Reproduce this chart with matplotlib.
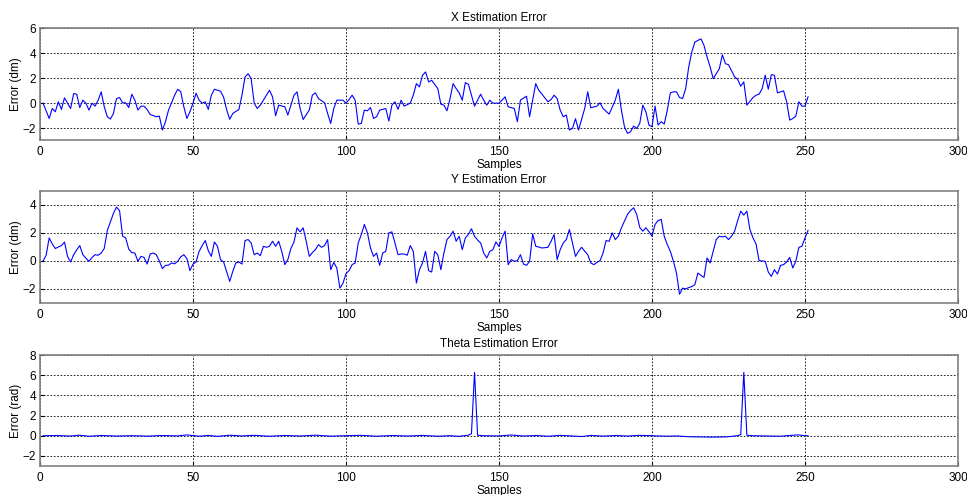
import matplotlib
matplotlib.use("Agg")
import matplotlib.pyplot as plt

plt.rcParams['font.family'] = ['Liberation Sans', 'DejaVu Sans']

# ---------------- data ----------------
x_samples = [1,3,4,5,6,7,8,9,10,11,12,13,14,15,16,17,18,19,20,21,22,23,24,25,26,27,28,29,30,31,32,33,34,35,36,38,39,40,41,42,44,45,46,47,48,49,50,51,52,53,54,55,56,57,59,60,61,62,63,65,66,67,68,69,70,71,72,73,74,75,76,77,78,80,81,82,83,84,85,86,88,89,90,91,93,94,95,96,97,99,100,101,102,103,104,105,106,107,108,109,110,111,113,114,115,116,117,118,119,121,122,123,124,125,126,127,128,130,131,132,133,134,135,136,137,138,139,140,141,142,144,145,146,147,148,150,151,152,153,155,156,157,159,160,162,163,166,167,168,169,170,171,172,173,174,175,176,178,179,180,182,183,184,186,188,189,190,191,192,193,194,195,196,197,198,199,200,201,202,203,204,205,206,207,208,209,210,211,212,213,214,216,217,218,219,220,222,223,224,225,227,228,229,230,231,233,234,235,236,237,238,239,240,241,242,243,244,245,246,247,248,249,250,251]
x_error = [0,-1.23,-0.43,-0.69,0.11,-0.5,0.43,0,-0.43,0.77,0.72,-0.35,0.24,0,-0.56,0,-0.24,0.24,0.91,-0.29,-1.09,-1.28,-0.83,0.37,0.45,0.03,0.03,-0.35,0.72,0.24,-0.56,-0.24,-0.24,-0.51,-0.91,-1.09,-1.04,-2.16,-1.49,-0.56,0.64,1.12,0.91,-0.29,-1.23,-0.69,0.0,0.8,0.24,0,0.11,-0.5,0.64,1.12,0.96,0.48,-0.53,-1.3,-0.83,-0.5,0.64,2.1,2.37,1.97,0,-0.43,-0.16,0.24,0.64,1.04,0.5,-1.01,-0.16,-0.29,-0.96,-0.16,0.64,0.91,-0.43,-1.31,-0.56,0.64,0.83,0.37,0.03,-0.83,-1.63,-0.43,0.24,0.24,0,0.29,0.64,0.24,-1.68,-1.63,-0.56,-0.61,-0.35,-1.23,-1.09,-0.56,-0.43,-1.44,-0.16,0.11,-0.5,0.24,-0.24,0,0.64,1.57,1.31,2.24,2.51,1.71,1.84,1.17,-0.08,-0.16,-0.61,0.37,1.57,1.17,0.83,0.24,1.65,1.52,0.64,-0.24,0.72,0.24,-0.16,0.24,0,0,0.24,0.51,-0.29,-0.43,-1.49,0.24,0.56,-1.09,1.57,1.04,0.11,0.29,0.64,0.37,-0.56,-1.09,-0.96,-2.16,-2.03,-1.25,-2.16,-0.43,0.91,-0.37,-0.24,0.03,-0.43,-0.88,0.24,1.12,-0.56,-1.89,-2.43,-2.29,-1.84,-2.03,-1.63,-0.16,-0.69,-1.76,-1.89,-0.24,-1.76,-1.49,-1.68,-0.56,0.83,0.91,0.91,0.45,0.37,1.17,2.91,4.11,4.91,5.17,4.64,3.71,2.91,1.97,2.77,3.89,3.17,3.09,2.11,1.92,1.36,1.71,-0.16,0.45,0.64,0.72,1.17,2.24,1.12,2.29,2.24,0.83,0.91,0.99,0.11,-1.36,-1.23,-1.04,0.11,-0.24,-0.24,0.51]

y_samples = [1,2,3,4,5,6,7,8,9,10,11,12,13,14,15,16,17,18,19,20,21,22,23,24,25,26,27,28,29,30,31,32,33,34,35,36,37,38,39,40,41,42,43,44,45,46,47,48,49,50,51,52,53,54,55,56,57,58,59,60,62,63,64,65,66,67,68,69,70,71,72,73,74,75,76,77,78,79,80,81,82,83,84,85,86,87,88,89,90,91,92,93,94,95,96,97,98,99,100,101,102,103,104,105,106,107,108,109,110,111,112,113,114,115,116,117,118,119,120,121,122,123,124,125,126,127,128,129,130,131,132,133,134,135,136,137,138,139,140,141,142,143,144,145,146,147,148,149,150,151,152,153,154,155,156,157,158,159,160,161,162,163,164,165,166,167,168,169,170,171,172,173,174,175,176,177,178,179,180,181,182,183,184,185,186,187,188,189,190,191,192,193,194,195,196,197,198,199,200,201,202,203,204,205,206,207,208,209,210,211,212,213,214,215,216,217,218,219,220,221,222,223,224,225,226,227,228,229,230,231,232,233,234,235,236,237,238,239,240,241,242,243,244,245,246,247,248,249,250,251]
y_error = [0,0.41,1.65,1.22,0.89,1.0,1.1,1.35,0.33,-0.07,0.45,0.8,1.1,0.45,0.2,-0.02,0.25,0.45,0.41,0.57,0.9,2.18,2.8,3.4,3.85,3.6,1.77,1.65,0.85,0.6,0.57,-0.02,0.33,0.26,-0.22,0.5,0.57,0.45,0.0,-0.55,-0.31,-0.3,-0.14,-0.2,-0.02,0.3,0.45,0.17,-0.69,-0.22,-0.07,0.69,1.1,1.46,0.74,0.33,1.36,1.05,0.1,-0.07,-1.46,-0.74,-0.14,-0.07,-0.22,1.46,1.53,1.29,0.45,0.57,0.38,1.05,0.98,1.05,1.41,1.05,1.41,0.69,-0.26,0.1,0.9,1.36,2.37,2.08,2.37,1.41,0.33,0.6,0.81,1.17,0.98,1.1,1.53,-0.62,-0.1,-0.5,-1.94,-1.6,-0.9,-0.69,-0.26,-0.14,1.29,1.89,2.61,2.01,0.93,0.33,0.57,-0.31,0.57,0.69,2.01,2.08,1.29,0.45,0.5,0.5,0.41,1.1,0.69,-1.58,-0.62,-0.14,0.69,-0.69,-0.79,0.69,0.45,-0.62,0.57,1.53,1.77,2.13,1.41,1.77,0.81,1.65,1.9,2.3,1.77,1.5,1.29,0.57,0.22,0.69,0.81,1.36,1.05,1.65,2.13,-0.26,0.1,-0.02,0.02,0.45,-0.22,-0.31,-0.02,1.94,1.05,1.0,0.93,0.95,0.98,1.4,1.89,0.1,0.81,1.29,1.53,2.25,1.29,0.33,0.69,0.98,0.7,0.45,-0.14,-0.26,-0.1,0.02,0.57,1.46,1.41,2.01,1.53,1.77,2.37,2.85,3.33,3.61,3.8,3.33,2.4,2.13,2.37,2.1,1.77,2.61,2.89,2.97,1.77,1.17,0.69,-0.02,-0.86,-2.37,-1.94,-1.99,-1.9,-1.82,-1.7,-0.86,-1.03,-1.17,0.22,-0.14,0.69,1.53,1.77,1.72,1.77,1.53,1.77,2.13,2.89,3.56,3.28,3.56,2.25,1.65,1.22,0.02,0.0,-0.02,-0.79,-1.1,-0.62,-0.93,-0.31,-0.26,-0.07,0.26,-0.5,-0.02,0.98,1.05,1.65,2.18]

theta_samples = [1,5,10,13,16,20,25,30,35,40,45,48,52,55,58,62,66,70,75,80,85,90,95,100,105,110,115,120,125,130,134,137,139,140,141,142,143,145,150,154,158,162,166,170,174,177,180,184,188,192,196,200,205,208,212,216,220,224,227,228,229,230,231,233,238,242,246,248,250,251]
theta_error = [0,0.02,-0.03,0.05,-0.05,0.02,-0.03,0.0,-0.04,0.02,-0.02,0.08,-0.05,0.03,-0.06,0.05,-0.02,0.04,-0.05,0.02,-0.03,0.05,-0.04,0.0,0.04,-0.05,0.02,-0.03,0.03,-0.05,0.0,-0.06,0.02,0.05,0.2,6.28,0.05,0.0,-0.02,0.07,-0.03,0.02,-0.05,0.04,-0.03,-0.08,0.03,-0.04,0.02,-0.03,0.04,0.0,-0.05,-0.02,-0.1,-0.12,-0.14,-0.12,-0.03,0.02,0.1,6.28,0.05,0.0,-0.03,-0.05,0.05,0.08,0.0,0.0]

titles = ["X Estimation Error", "Y Estimation Error", "Theta Estimation Error"]
ylabels = ["Error (dm)", "Error (dm)", "Error (rad)"]
ylims = [(-3, 6), (-3, 5), (-3, 8)]
yticks = [[-2, 0, 2, 4, 6], [-2, 0, 2, 4], [-2, 0, 2, 4, 6, 8]]
xticks = [0, 50, 100, 150, 200, 250, 300]
xlabel = "Samples"

series = [(x_samples, x_error), (y_samples, y_error), (theta_samples, theta_error)]

# ---------------- figure ----------------
W, H = 967, 495
fig = plt.figure(figsize=(W / 100, H / 100), dpi=100)
boxes = [(40, 28.5, 958, 140.5), (40, 191, 958, 303), (40, 355, 958, 466)]
FS = 8.5

for i, (l, t, r, b) in enumerate(boxes):
    ax = fig.add_axes([l / W, 1 - b / H, (r - l) / W, (b - t) / H])
    xs, ys = series[i]
    ax.plot(xs, ys, color='#0000ff', lw=0.8)
    ax.set_xlim(0, 300)
    ax.set_ylim(*ylims[i])
    ax.set_xticks(xticks)
    ax.set_yticks(yticks[i])
    ax.grid(True, color='black', linestyle=(0, (2, 2)), linewidth=0.6)
    ax.tick_params(axis='x', direction='in', length=3, labelsize=FS, pad=4, colors='black')
    ax.tick_params(axis='y', direction='in', length=3, labelsize=FS, pad=3, colors='black')
    for s in ax.spines.values():
        s.set_color('#808080')
        s.set_linewidth(1.2)
    ax.set_title(titles[i], fontsize=FS, pad=5.5)
    ax.set_ylabel(ylabels[i], fontsize=FS, labelpad=0.5)
    ax.set_xlabel(xlabel, fontsize=FS, labelpad=1.0)

fig.savefig("out.png", dpi=100)
